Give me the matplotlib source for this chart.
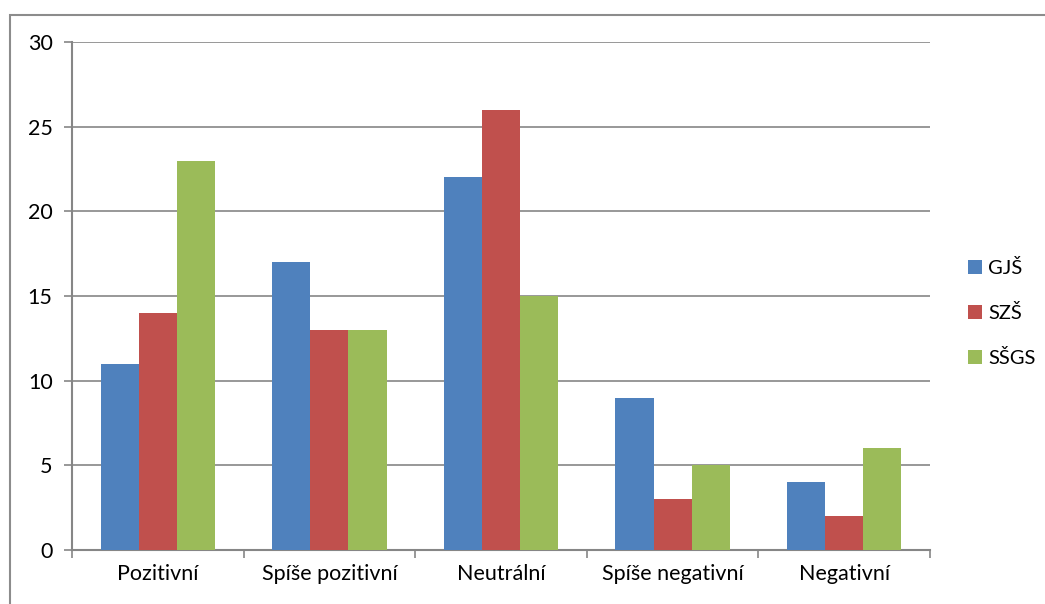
import numpy as np
import matplotlib.pyplot as plt
from matplotlib.patches import Rectangle

categories = ["Pozitivní", "Spíše pozitivní", "Neutrální", "Spíše negativní", "Negativní"]
gjs = [11, 17, 22, 9, 4]
szs = [14, 13, 26, 3, 2]
ssgs = [23, 13, 15, 5, 6]
series = [("GJŠ", gjs, "#4F81BD"), ("SZŠ", szs, "#C0504D"), ("SŠGS", ssgs, "#9BBB59")]

plt.rcParams["font.family"] = ["Lato", "DejaVu Sans"]
fs = 15.5

fig = plt.figure(figsize=(10.45, 6.04), dpi=100)
ax = fig.add_axes([72 / 1045, 1 - 550 / 604, (930 - 72) / 1045, (550 - 42) / 604])

# outer chart frame
fig.patches.append(Rectangle((10 / 1045, -0.1), 1.2, 1 - 15 / 604 + 0.1,
                             transform=fig.transFigure, fill=False,
                             edgecolor="#8c8c8c", linewidth=1.5))

x = np.arange(len(categories))
w = 0.222
for i, (name, vals, col) in enumerate(series):
    ax.bar(x + (i - 1) * w, vals, w, color=col, label=name, zorder=3)

ax.set_xlim(-0.5, len(categories) - 0.5)
ax.set_ylim(0, 30)
ax.set_yticks(range(0, 31, 5))
ax.set_xticks(x)
ax.set_xticklabels(categories)
ax.set_xticks(np.arange(-0.5, len(categories)), minor=True)
ax.tick_params(axis="x", which="major", length=0, pad=10, labelsize=fs)
ax.tick_params(axis="x", which="minor", length=6, color="#868686", width=1.2)
ax.tick_params(axis="y", length=6, color="#868686", width=1.2, labelsize=fs, pad=8)
ax.yaxis.grid(True, color="#868686", linewidth=1.2, zorder=0)
for s in ["top", "right"]:
    ax.spines[s].set_visible(False)
for s in ["left", "bottom"]:
    ax.spines[s].set_color("#868686")
    ax.spines[s].set_linewidth(1.5)

ax.legend(loc="center left", bbox_to_anchor=(968 / 1045, 1 - 313 / 604),
          bbox_transform=fig.transFigure, frameon=False, fontsize=14.5,
          borderpad=0, borderaxespad=0,
          handlelength=0.7, handleheight=0.7, handletextpad=0.3, labelspacing=1.35)

fig.savefig("out.png", dpi=100)
